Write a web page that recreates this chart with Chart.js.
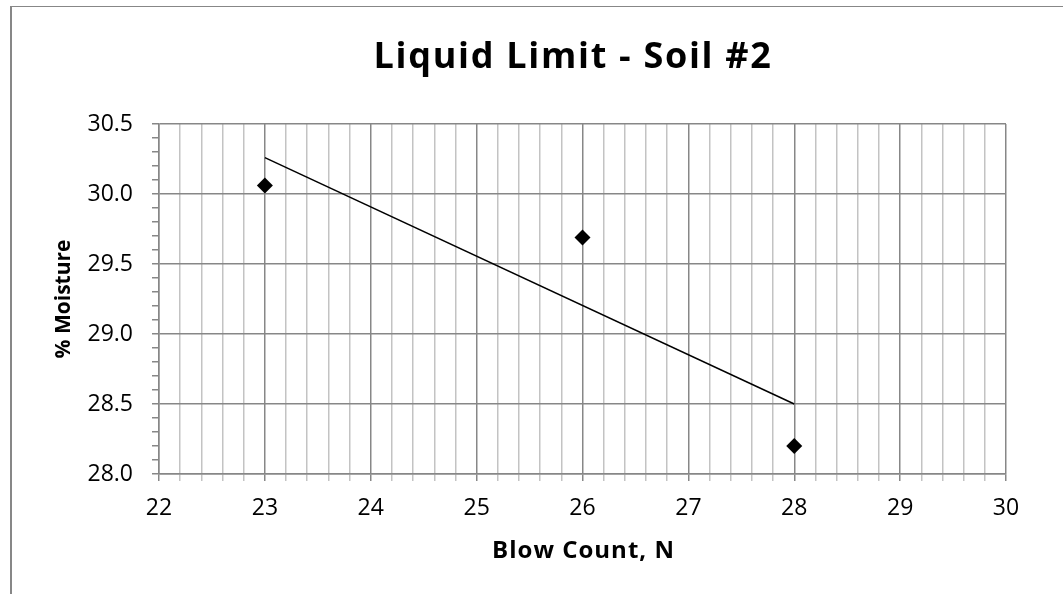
<!DOCTYPE html>
<html>
<head>
<meta charset="utf-8">
<title>Liquid Limit - Soil #2</title>
<script src="https://cdn.jsdelivr.net/npm/chart.js@4.4.1/dist/chart.umd.min.js"></script>
<style>
  html, body { margin: 0; padding: 0; background: #fff; overflow: hidden; }
  #wrap { position: relative; width: 1063px; height: 594px; }
  #frame {
    position: absolute; left: 10px; top: 6px; width: 1100px; height: 700px;
    border-top: 1px solid #878787; border-left: 2px solid #878787; box-sizing: border-box;
  }
  #chart { position: absolute; left: 0; top: 0; }
</style>
</head>
<body>
<div id="wrap">
  <div id="frame"></div>
  <canvas id="chart" width="1063" height="594"></canvas>
</div>
<script>
// Test results: blow count vs. moisture content
const blowCounts = [23, 26, 28];
const moisture = [30.06, 29.69, 28.20];

// Linear trend line end points
const trendBlowCounts = [23, 28];
const trendMoisture = [30.26, 28.50];

// Labelled axis ticks
const xMajorTicks = [22, 23, 24, 25, 26, 27, 28, 29, 30];
const xTickLabels = ['22', '23', '24', '25', '26', '27', '28', '29', '30'];
const yMajorTicks = [28.0, 28.5, 29.0, 29.5, 30.0, 30.5];
const yTickLabels = ['28.0', '28.5', '29.0', '29.5', '30.0', '30.5'];

const chartTitle = 'Liquid Limit - Soil #2';
const xTitle = 'Blow Count, N';
const yTitle = '% Moisture';

const FONT = '"Open Sans", "Liberation Sans", sans-serif';
const MAJOR_GRID = '#878787';
const MINOR_GRID = '#c3c3c3';

function majorIndex(list, v) {
  return list.findIndex(t => Math.abs(t - v) < 1e-6);
}

// Chart heading and x-axis caption, drawn with a little letter spacing
const captionPlugin = {
  id: 'captions',
  afterDraw(chart) {
    const ctx = chart.ctx;
    const area = chart.chartArea;
    ctx.save();
    ctx.fillStyle = '#000';
    ctx.textAlign = 'center';

    ctx.font = 'bold 36px ' + FONT;
    ctx.letterSpacing = '1.7px';
    ctx.textBaseline = 'alphabetic';
    ctx.fillText(chartTitle, 573, 68);

    ctx.font = 'bold 24px ' + FONT;
    ctx.letterSpacing = '1px';
    ctx.textBaseline = 'middle';
    ctx.fillText(xTitle, (area.left + area.right) / 2 + 1, 551);
    ctx.restore();
  }
};

function build() {
  const pts = blowCounts.map((x, i) => ({ x, y: moisture[i] }));
  const trend = trendBlowCounts.map((x, i) => ({ x, y: trendMoisture[i] }));

  new Chart(document.getElementById('chart'), {
    type: 'scatter',
    data: {
      datasets: [
        {
          type: 'line',
          label: 'Linear trend',
          data: trend,
          borderColor: '#000',
          borderWidth: 1.5,
          pointRadius: 0,
          fill: false,
          order: 2
        },
        {
          label: '% Moisture',
          data: pts,
          pointStyle: 'rectRot',
          pointRadius: 8,
          pointHoverRadius: 8,
          backgroundColor: '#000',
          borderColor: '#000',
          borderWidth: 0,
          showLine: false,
          order: 1
        }
      ]
    },
    options: {
      responsive: false,
      animation: false,
      devicePixelRatio: 1,
      layout: { padding: { left: 0, right: 57, top: 124, bottom: 0 } },
      plugins: {
        legend: { display: false },
        tooltip: { enabled: false },
        title: { display: false }
      },
      scales: {
        x: {
          type: 'linear',
          position: 'bottom',
          min: 22,
          max: 30,
          ticks: {
            stepSize: 0.2,
            autoSkip: false,
            maxRotation: 0,
            padding: 14,
            color: '#000',
            font: { family: FONT, size: 23 },
            callback: v => {
              const i = majorIndex(xMajorTicks, v);
              return i >= 0 ? xTickLabels[i] : '';
            }
          },
          grid: {
            color: c => majorIndex(xMajorTicks, c.tick.value) >= 0 ? MAJOR_GRID : MINOR_GRID,
            tickColor: c => majorIndex(xMajorTicks, c.tick.value) >= 0 ? MAJOR_GRID : MINOR_GRID,
            lineWidth: 1.5,
            tickLength: 7
          },
          border: { display: true, color: MAJOR_GRID, width: 1.5 },
          title: { display: false, text: xTitle },
          afterFit: s => { s.height = 120; s.paddingLeft = 0; s.paddingRight = 0; }
        },
        y: {
          type: 'linear',
          position: 'left',
          min: 28,
          max: 30.5,
          ticks: {
            stepSize: 0.1,
            autoSkip: false,
            padding: 19,
            color: '#000',
            font: { family: FONT, size: 23 },
            callback: v => {
              const i = majorIndex(yMajorTicks, v);
              return i >= 0 ? yTickLabels[i] : '';
            }
          },
          grid: {
            color: c => majorIndex(yMajorTicks, c.tick.value) >= 0 ? MAJOR_GRID : 'rgba(0,0,0,0)',
            tickColor: MAJOR_GRID,
            lineWidth: 1.5,
            tickLength: 7
          },
          border: { display: true, color: MAJOR_GRID, width: 1.5 },
          title: {
            display: true,
            text: yTitle,
            color: '#000',
            font: { family: FONT, size: 21, weight: 'bold' },
            padding: { top: 51, bottom: 0 }
          },
          afterFit: s => { s.width = 159; s.paddingTop = 0; s.paddingBottom = 0; }
        }
      }
    },
    plugins: [captionPlugin]
  });
}

Promise.all([
  document.fonts.load('23px "Open Sans"'),
  document.fonts.load('bold 36px "Open Sans"')
]).catch(() => {}).then(build);
</script>
</body>
</html>
